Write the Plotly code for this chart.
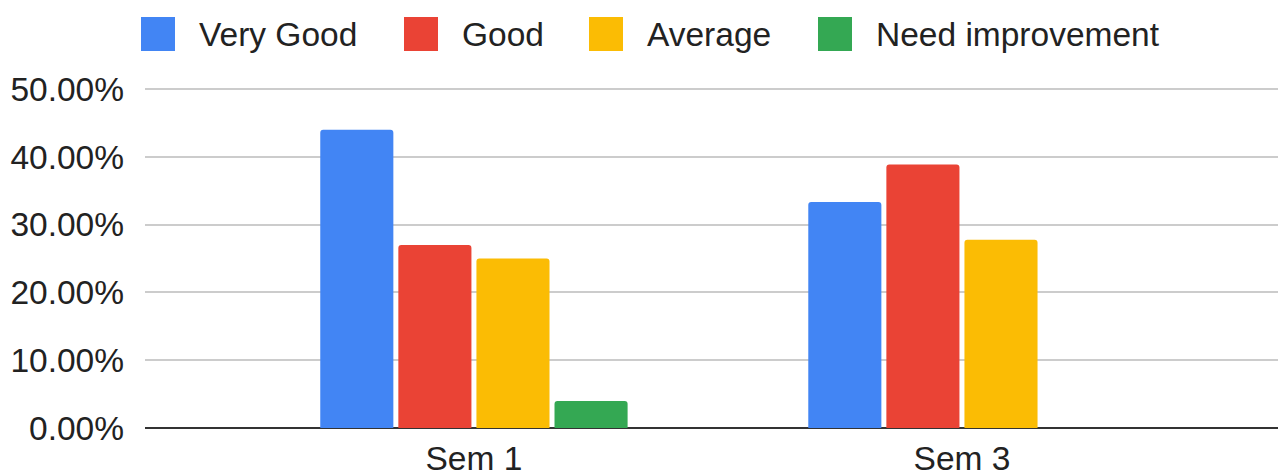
import plotly.graph_objects as go

categories = ["Sem 1", "Sem 3"]
series_names = ["Very Good", "Good", "Average", "Need improvement"]
very_good = [0.44, 0.3333]
good = [0.27, 0.3889]
average = [0.25, 0.2778]
need_improvement = [0.04, 0.0]
colors = ["#4285F4", "#EA4335", "#FBBC04", "#34A853"]
y_ticks = [0, 0.1, 0.2, 0.3, 0.4, 0.5]

FONT = "Arial, 'Liberation Sans', sans-serif"
TXT = "#222222"
FS = 33.5

# page body adds an 8px offset; size the figure so it fills the 1286x473 view
OFF = 8
W, H = 1286 - OFF, 473 - OFF
Y_TOP = 0.506
PX_PER_UNIT = (428 - 89) / 0.5
ML, MR = 145 - OFF, 0
MB = 473 - 428
MT = (89 - OFF) - (Y_TOP - 0.5) * PX_PER_UNIT
PW, PH = W - ML - MR, H - MT - MB

fig = go.Figure()
for name, vals, col in zip(series_names, [very_good, good, average, need_improvement], colors):
    fig.add_trace(go.Bar(x=categories, y=vals, name=name, marker=dict(color=col, line=dict(width=0)),
                         showlegend=False))


def px_x(px):
    return (px - OFF - ML) / PW


def px_y(py):
    return (H - MB - (py - OFF)) / PH


# manual legend (large square swatches like the reference)
legend_x = [141, 404, 589, 818]  # reference pixel left of each swatch
for name, col, lx in zip(series_names, colors, legend_x):
    fig.add_shape(type="rect", xref="paper", yref="paper",
                  x0=px_x(lx), x1=px_x(lx + 34), y0=px_y(51), y1=px_y(17),
                  fillcolor=col, line=dict(width=0), layer="above")
    fig.add_annotation(x=px_x(lx + 56), y=px_y(34), xref="paper", yref="paper",
                       text=name, showarrow=False, xanchor="left", yanchor="middle",
                       font=dict(family=FONT, size=FS, color=TXT))

fig.update_layout(
    width=W, height=H,
    margin=dict(l=ML, r=MR, t=MT, b=MB, autoexpand=False),
    paper_bgcolor="white", plot_bgcolor="white",
    barmode="group", bargap=0.36, bargroupgap=0.064, barcornerradius=3,
    font=dict(family=FONT, size=FS, color=TXT),
    xaxis=dict(type="category", range=[-0.674, 1.664], showgrid=False, automargin=False,
               showline=False, ticks="", ticklabelstandoff=7,
               tickfont=dict(size=FS, color=TXT), fixedrange=True),
    yaxis=dict(range=[0, Y_TOP], tickvals=y_ticks, tickformat=".2%", automargin=False,
               showgrid=True, gridcolor="#cccccc", gridwidth=2,
               zeroline=True, zerolinecolor="#333333", zerolinewidth=2,
               showline=False, ticks="", ticklabelstandoff=20,
               tickfont=dict(size=FS, color=TXT)),
)

fig.write_html("out.html")
